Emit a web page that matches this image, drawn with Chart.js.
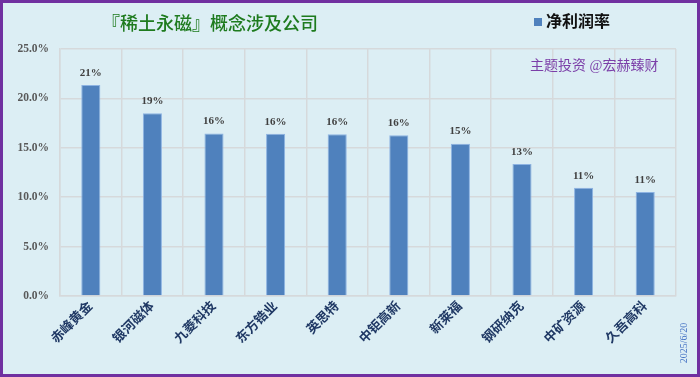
<!DOCTYPE html>
<html><head><meta charset="utf-8">
<script src="https://cdn.jsdelivr.net/npm/chart.js@4"></script>
<style>html,body{margin:0;padding:0;background:#DCEEF4;}#wrap{width:700px;height:377px;position:relative;}</style>
</head><body><div id="wrap"><canvas id="c" width="700" height="377"></canvas></div>
<script>
const categories = ["赤峰黄金","银河磁体","九菱科技","东方锆业","英思特","中钜高新","新莱福","钢研纳克","中矿资源","久吾高科"];
const netMargin = [21.36, 18.5, 16.46, 16.43, 16.36, 16.26, 15.42, 13.36, 10.96, 10.53];
const yTicks = [0, 5, 10, 15, 20, 25];
const titleText = "『稀土永磁』概念涉及公司";
const legendText = "净利润率";
const watermark = "主题投资 @宏赫臻财";
const dateText = "2025/6/20";

const SERIF = '"Liberation Serif","Noto Sans CJK SC",serif';

const deco = {
  id: 'deco',
  beforeDraw(chart) {
    const ctx = chart.ctx;
    ctx.save();
    ctx.fillStyle = '#DCEEF4';
    ctx.fillRect(0, 0, chart.width, chart.height);
    ctx.restore();
  },
  afterDraw(chart) {
    const ctx = chart.ctx;
    ctx.save();
    // border
    ctx.strokeStyle = '#7030A0';
    ctx.lineWidth = 3;
    ctx.strokeRect(1.5, 1.5, chart.width - 3, chart.height - 3);
    // title
    ctx.fillStyle = '#1E7B1E';
    ctx.font = '500 18px ' + SERIF;
    ctx.textAlign = 'center';
    ctx.textBaseline = 'middle';
    ctx.fillText(titleText, 210, 25);
    // legend
    ctx.fillStyle = '#4F81BD';
    ctx.fillRect(534, 18, 8, 8);
    ctx.fillStyle = '#111111';
    ctx.font = 'bold 16px ' + SERIF;
    ctx.textAlign = 'left';
    ctx.fillText(legendText, 546, 23);
    // watermark
    ctx.fillStyle = '#7B3FA8';
    ctx.font = '14px ' + SERIF;
    ctx.fillText(watermark, 530, 66);
    // date
    ctx.save();
    ctx.translate(684, 343);
    ctx.rotate(-Math.PI / 2);
    ctx.fillStyle = '#4472C4';
    ctx.font = '10px ' + SERIF;
    ctx.textAlign = 'center';
    ctx.fillText(dateText, 0, 0);
    ctx.restore();
    // data labels
    const meta = chart.getDatasetMeta(0);
    ctx.fillStyle = '#404040';
    ctx.font = 'bold 11px ' + SERIF;
    ctx.textAlign = 'center';
    ctx.textBaseline = 'middle';
    meta.data.forEach((bar, i) => {
      ctx.fillText(Math.round(netMargin[i]) + '%', bar.x, bar.y - 12);
    });
    ctx.restore();
  }
};

new Chart(document.getElementById('c'), {
  type: 'bar',
  data: {
    labels: categories,
    datasets: [{
      label: legendText,
      data: netMargin,
      backgroundColor: '#4F81BD',
      borderColor: '#8DB3E2',
      borderWidth: 1,
      barPercentage: 0.31,
      categoryPercentage: 1.0
    }]
  },
  options: {
    responsive: false,
    animation: false,
    devicePixelRatio: 1,
    layout: { padding: { top: 49, right: 24, left: 0, bottom: 0 } },
    plugins: { legend: { display: false }, tooltip: { enabled: false }, title: { display: false } },
    scales: {
      x: {
        grid: { color: '#D6D9DB', lineWidth: 1.5, offset: true, drawTicks: false },
        border: { color: '#D6D9DB', width: 1.5 },
        ticks: {
          color: '#1F3864',
          font: { family: SERIF, size: 13, weight: 'bold' },
          maxRotation: 45, minRotation: 45, padding: 3
        },
        afterFit(scale) { scale.height = 81; }
      },
      y: {
        min: 0, max: 25,
        afterBuildTicks(scale) { scale.ticks = yTicks.map(v => ({ value: v })); },
        grid: { color: '#D6D9DB', lineWidth: 1.5, drawTicks: false },
        border: { color: '#D6D9DB', width: 1.5 },
        ticks: {
          color: '#595959',
          font: { family: SERIF, size: 11.5, weight: 'bold' },
          padding: 11,
          callback: v => Number(v).toFixed(1) + '%'
        },
        afterFit(scale) { scale.width = 60; }
      }
    }
  },
  plugins: [deco]
});
</script></body></html>
